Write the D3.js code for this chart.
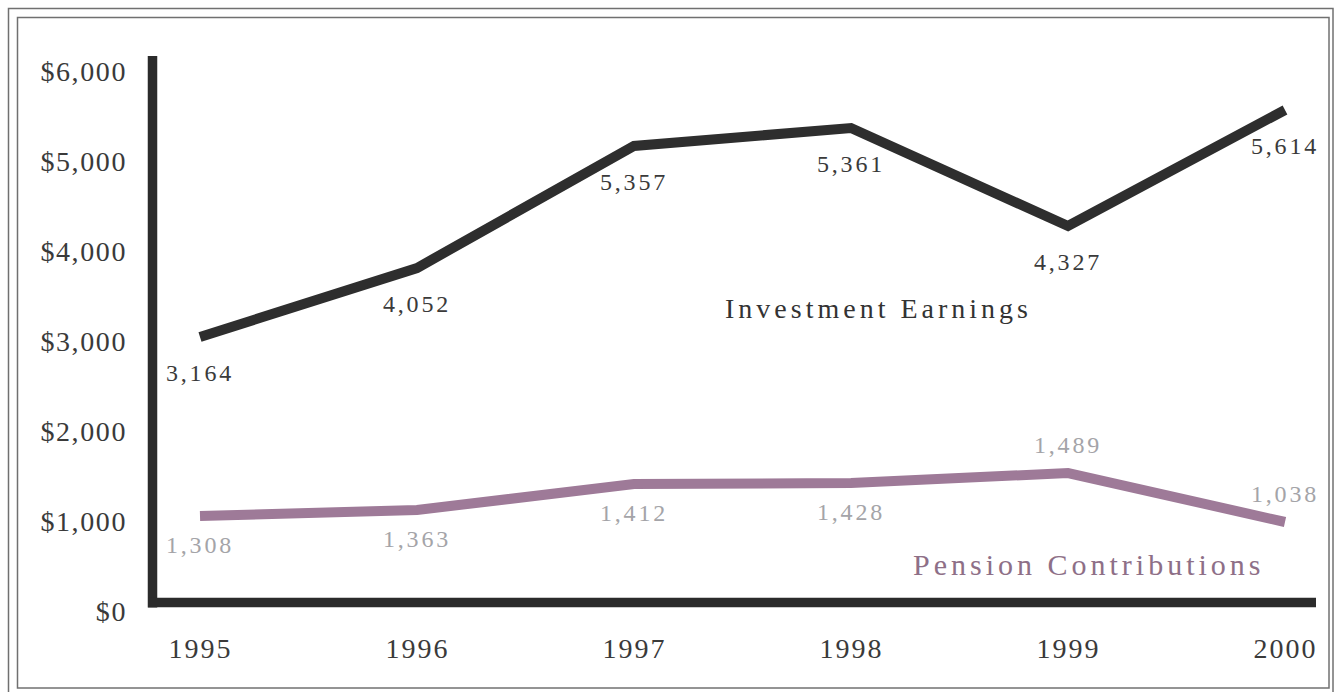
<!DOCTYPE html>
<html>
<head>
<meta charset="utf-8">
<script src="https://cdn.jsdelivr.net/npm/d3@7"></script>
<style>
  html, body { margin: 0; padding: 0; background: #ffffff; }
  svg { display: block; }
  text { font-family: "Liberation Serif", "Times New Roman", serif; }
</style>
</head>
<body>
<svg id="chart" width="1340" height="692"></svg>
<script>
// ---- data ----
const categories = ["1995", "1996", "1997", "1998", "1999", "2000"];
const investmentValues = [2956, 3722, 5078, 5278, 4189, 5478];
const pensionValues = [967, 1033, 1322, 1333, 1444, 900];
const investmentLabels = ["3,164", "4,052", "5,357", "5,361", "4,327", "5,614"];
const pensionLabels = ["1,308", "1,363", "1,412", "1,428", "1,489", "1,038"];
const yTicks = [0, 1000, 2000, 3000, 4000, 5000, 6000];
const seriesNames = ["Investment Earnings", "Pension Contributions"];

// ---- layout ----
const svg = d3.select("#chart");
const x = d3.scalePoint().domain(categories).range([200, 1285]);
const y = d3.scaleLinear().domain([0, 6000]).range([603, 63]);

const series = [
  { name: seriesNames[0], values: investmentValues, labels: investmentLabels,
    color: "#2e2e2e", labelColor: "#3a3a3a", textColor: "#333333" },
  { name: seriesNames[1], values: pensionValues, labels: pensionLabels,
    color: "#9e7a98", labelColor: "#a4a4a8", textColor: "#8e6f87" }
];

// double frame
svg.append("rect").attr("x", 8.5).attr("y", 8.5).attr("width", 1324.5).attr("height", 700)
  .attr("fill", "none").attr("stroke", "#707070").attr("stroke-width", 1.5);
svg.append("rect").attr("x", 17.5).attr("y", 17.5).attr("width", 1311.5).attr("height", 670.5)
  .attr("fill", "none").attr("stroke", "#707070").attr("stroke-width", 1.5);

// y axis labels
const yAxis = svg.append("g").attr("transform", "translate(129,0)")
  .call(d3.axisLeft(y).tickValues(yTicks).tickFormat(d3.format("$,")).tickSize(0).tickPadding(2));
yAxis.select(".domain").remove();
yAxis.selectAll("text")
  .attr("dy", 17)
  .attr("fill", "#3a3a3a")
  .style("font-size", "28px")
  .style("letter-spacing", "1.6px")
  .style("font-family", "'Liberation Serif', serif");

// x axis labels
const xAxis = svg.append("g").attr("transform", `translate(0,${y(0)})`)
  .call(d3.axisBottom(x).tickSize(0));
xAxis.select(".domain").remove();
xAxis.selectAll("text")
  .attr("y", 55).attr("dy", 0)
  .attr("fill", "#3a3a3a")
  .style("font-size", "28px")
  .style("letter-spacing", "2px")
  .style("font-family", "'Liberation Serif', serif");

// heavy axis bars
svg.append("line").attr("x1", 152.5).attr("x2", 152.5)
  .attr("y1", y(6000) - 7).attr("y2", y(0) + 4.5)
  .attr("stroke", "#2b2b2b").attr("stroke-width", 9.5);
svg.append("line").attr("x1", 148).attr("x2", 1316)
  .attr("y1", y(0) - 0.5).attr("y2", y(0) - 0.5)
  .attr("stroke", "#2b2b2b").attr("stroke-width", 9.5);

// lines
const line = d3.line().x((d, i) => x(categories[i])).y(d => y(d));
series.forEach(s => {
  svg.append("path").datum(s.values)
    .attr("d", line)
    .attr("fill", "none")
    .attr("stroke", s.color)
    .attr("stroke-width", 10)
    .attr("stroke-linejoin", "miter")
    .attr("stroke-linecap", "butt");
});

// value labels
series.forEach((s, si) => {
  const peak = d3.maxIndex(s.values);
  svg.append("g").selectAll("text").data(s.values).join("text")
    .attr("x", (d, i) => x(categories[i]))
    .attr("y", (d, i) => {
      if (si === 1) return i >= peak ? y(d) - 20 : y(d) + 37;
      return y(d) + 44;
    })
    .attr("text-anchor", "middle")
    .attr("fill", s.labelColor)
    .style("font-size", "24px")
    .style("letter-spacing", "2.8px")
    .text((d, i) => s.labels[i]);
});

// series names
svg.append("text").attr("x", 725).attr("y", 318)
  .attr("fill", series[0].textColor)
  .style("font-size", "28px").style("letter-spacing", "4px")
  .text(series[0].name);
svg.append("text").attr("x", 913).attr("y", 575)
  .attr("fill", series[1].textColor)
  .style("font-size", "30px").style("letter-spacing", "4px")
  .text(series[1].name);
</script>
</body>
</html>
